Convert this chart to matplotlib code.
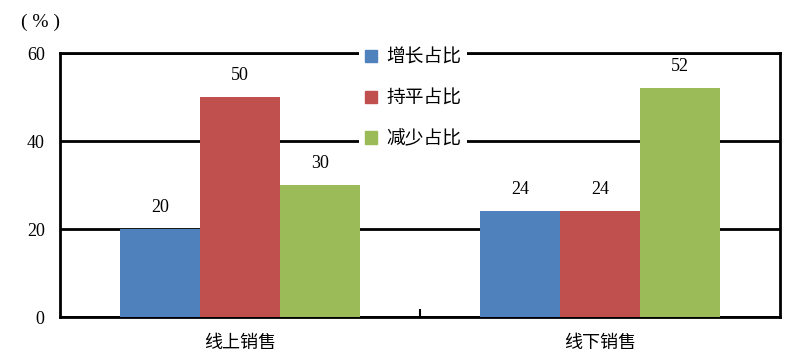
import numpy as np
import matplotlib
matplotlib.use("Agg")
import matplotlib.pyplot as plt
from matplotlib.patches import Patch

plt.rcParams["font.family"] = ["Liberation Serif", "Noto Sans CJK SC", "DejaVu Sans"]

categories = ["线上销售", "线下销售"]
series = ["增长占比", "持平占比", "减少占比"]
increase = [20, 24]
flat = [50, 24]
decrease = [30, 52]
yticks = [0, 20, 40, 60]
COLORS = ["#4F81BD", "#C0504D", "#9BBB59"]
CJK = ["Noto Sans CJK SC"]

fig = plt.figure(figsize=(8.12, 3.62), dpi=100)
ax = fig.add_axes([60/812, 1-317/362, 720/812, 264/362])

x = np.arange(len(categories))
w = 0.222
for i, (vals, c) in enumerate(zip([increase, flat, decrease], COLORS)):
    bars = ax.bar(x + (i-1)*w, vals, width=w, color=c, zorder=2)
    for b, v in zip(bars, vals):
        ax.text(b.get_x()+b.get_width()/2, v+3.0, f"{v}", ha="center", va="bottom", fontsize=13, zorder=3)

ax.set_xlim(-0.5, 1.5)
ax.set_ylim(0, 60)
ax.set_yticks(yticks)
ax.set_yticklabels([str(t) for t in yticks], fontsize=13)
ax.tick_params(axis="y", length=0, pad=11)
ax.set_xticks(x)
ax.set_xticklabels(categories, fontsize=13, family=CJK)
ax.tick_params(axis="x", which="major", length=0, pad=12)
ax.set_xticks([0.5], minor=True)
ax.tick_params(axis="x", which="minor", direction="in", length=6, width=1.5, color="black")
ax.grid(axis="y", color="black", lw=2, zorder=1)
ax.set_axisbelow(True)
for s in ax.spines.values():
    s.set_linewidth(2)
    s.set_color("black")
    s.set_zorder(1.5)

handles = [Patch(color=c, label=l) for c, l in zip(COLORS, series)]
leg = ax.legend(handles=handles, loc="center", bbox_to_anchor=(0.49, 0.83),
                frameon=True, facecolor="white", edgecolor="none", framealpha=1, fancybox=False,
                handlelength=0.65, handleheight=0.65, handletextpad=0.5, labelspacing=1.05,
                borderpad=0.3, prop={"family": CJK, "size": 13.5})
leg.set_zorder(5)

fig.text(41/812, 1-22/362, "( % )", ha="center", va="center", fontsize=14)

fig.savefig("out.png", dpi=100)
